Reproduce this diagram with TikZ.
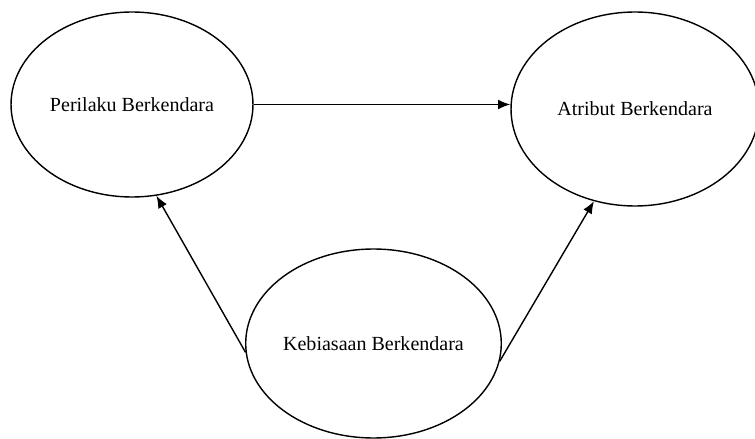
\documentclass[tikz,border=0pt]{standalone}
\usepackage{fontspec}
\setmainfont{Liberation Serif}
\usepackage{tikz}
\usetikzlibrary{shapes.geometric,arrows.meta}

\begin{document}
\begin{tikzpicture}[x=0.02cm,y=-0.02cm]
            \tikzstyle{every node}=[font=\fontsize{11.4}{13}\selectfont]
            \tikzstyle{var}=[draw,ellipse,line width=0.8pt,inner sep=0pt]
            \tikzstyle{link}=[-{Latex[length=7pt,width=5.6pt]},line width=0.8pt]
            \useasboundingbox (0,0) rectangle (755,439);
            \node[var,minimum width=4.84cm,minimum height=3.7cm] (pb) at (132,104.5) {Perilaku Berkendara};
            \node[var,minimum width=4.96cm,minimum height=3.88cm] (ab) at (635,109) {Atribut Berkendara};
            \node[var,minimum width=4.94cm,minimum height=3.78cm] (kb) at (373.5,343.5) {Kebiasaan Berkendara};
            % arah pengaruh
            \draw[link] (pb.east) -- (pb.east -| ab.west);
            \draw[link] (kb.184) -- (pb.285);
            \draw[link] (kb.352) -- (ab.246);
          \end{tikzpicture}
\end{document}
